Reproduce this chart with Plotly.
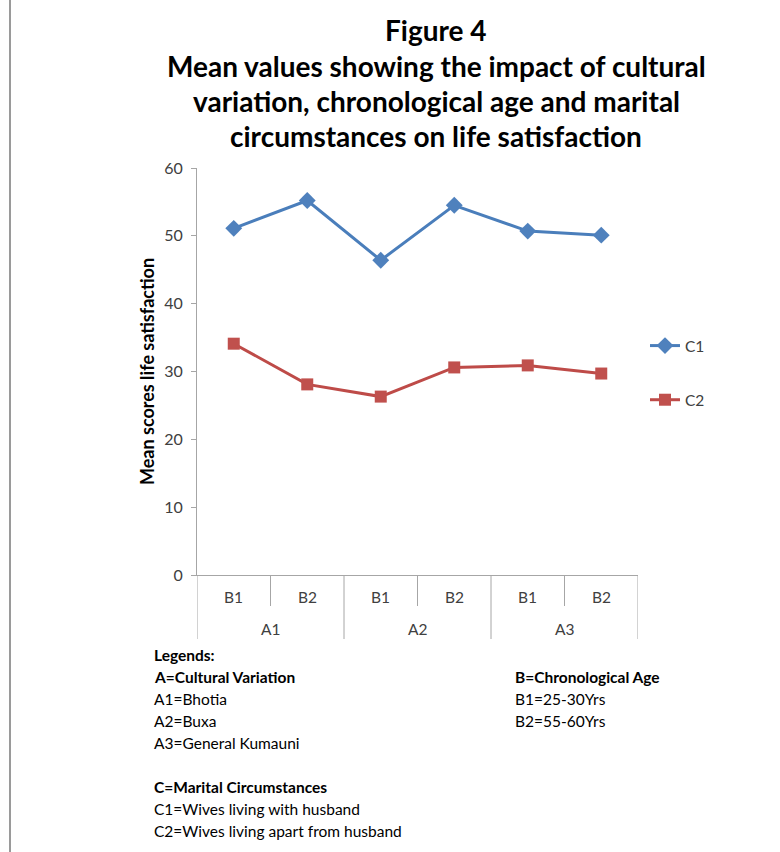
import plotly.graph_objects as go

# --- data -------------------------------------------------------------
groups = ["A1", "A2", "A3"]          # cultural variation
ages = ["B1", "B2"]                  # chronological age
series_names = ["C1", "C2"]          # marital circumstances
c1_values = [51.1, 55.2, 46.4, 54.5, 50.7, 50.1]
c2_values = [34.1, 28.1, 26.3, 30.6, 30.9, 29.7]
y_ticks = [0, 10, 20, 30, 40, 50, 60]

title_lines = [
    "Figure 4",
    "Mean values showing the impact of cultural",
    "variation, chronological age and marital",
    "circumstances on life satisfaction",
]
y_title = "Mean scores life satisfaction"

notes_left = [
    ("Legends:", True),
    ("A=Cultural Variation", True),
    ("A1=Bhotia", False),
    ("A2=Buxa", False),
    ("A3=General Kumauni", False),
    ("", False),
    ("C=Marital Circumstances", True),
    ("C1=Wives living with husband", False),
    ("C2=Wives living apart from husband", False),
]
notes_right = [
    ("B=Chronological Age", True),
    ("B1=25-30Yrs", False),
    ("B2=55-60Yrs", False),
]

# --- layout constants ---------------------------------------------------
W, H = 780, 852
L, R, T, B = 197, 142, 168, 277
PW, PH = W - L - R, H - T - B
FONT = "Lato"
AXIS_GREY = "#A6A6A6"
TEXT_GREY = "#404040"


def px_y(y):
    """pixel row -> paper y"""
    return (H - B - y) / PH


def px_x(x):
    """pixel column -> paper x"""
    return (x - L) / PW


n_cat = len(groups) * len(ages)
x_idx = list(range(n_cat))

fig = go.Figure()
fig.add_trace(go.Scatter(
    x=x_idx, y=c1_values, name=series_names[0], mode="lines+markers",
    line=dict(color="#4A7EBB", width=3),
    marker=dict(symbol="diamond", size=13, color="#4F81BD"),
    legendgroup="c1",
))
fig.add_trace(go.Scatter(
    x=x_idx, y=c2_values, name=series_names[1], mode="lines+markers",
    line=dict(color="#BE4B48", width=3),
    marker=dict(symbol="square", size=12, color="#C0504D"),
    legendgroup="c2",
))

annotations = []
shapes = []

# title block, one line per annotation
TITLE_STEP = 35.5
for i, line in enumerate(title_lines):
    annotations.append(dict(
        x=px_x(436), y=px_y(30 + i * TITLE_STEP), xref="paper", yref="paper",
        xanchor="center", yanchor="middle", text=line, showarrow=False,
        font=dict(family=FONT, size=28, color="black", weight="bold"),
    ))

# category labels (two-level axis)
CAT_FONT = dict(family=FONT, size=15.5, color=TEXT_GREY)
for gi, g in enumerate(groups):
    for ai, a in enumerate(ages):
        annotations.append(dict(
            x=gi * len(ages) + ai, y=px_y(597), xref="x", yref="paper",
            yanchor="middle", text=a, showarrow=False, font=CAT_FONT,
        ))
    annotations.append(dict(
        x=gi * len(ages) + (len(ages) - 1) / 2, y=px_y(629), xref="x", yref="paper",
        yanchor="middle", text=g, showarrow=False, font=CAT_FONT,
    ))

# dividers between categories
for k in range(1, n_cat + 1):
    major = k % len(ages) == 0
    shapes.append(dict(
        type="line", xref="x", yref="paper", x0=k - 0.5, x1=k - 0.5,
        y0=0, y1=px_y(639 if major else 606),
        line=dict(color=AXIS_GREY, width=1),
    ))
# left axis line continued through the label rows
shapes.append(dict(
    type="line", xref="x", yref="paper", x0=-0.5, x1=-0.5,
    y0=0, y1=px_y(639), line=dict(color=AXIS_GREY, width=1),
))
# page border on the left
shapes.append(dict(
    type="line", xref="paper", yref="paper", x0=px_x(10), x1=px_x(10),
    y0=px_y(0), y1=px_y(H), line=dict(color="#9A9A9A", width=2),
))

# y-axis title
annotations.append(dict(
    x=px_x(147), y=px_y(372), xref="paper", yref="paper", text=y_title,
    textangle=-90, showarrow=False, xanchor="center", yanchor="middle",
    font=dict(family=FONT, size=18, color="black", weight="bold"),
))

# notes under the chart
LINE_STEP = 22
NOTE_SIZE = 15.5
for i, (txt, bold) in enumerate(notes_left):
    if not txt:
        continue
    annotations.append(dict(
        x=px_x(152), y=px_y(655 + i * LINE_STEP), xref="paper", yref="paper",
        xanchor="left", yanchor="middle", text=txt, showarrow=False,
        font=dict(family=FONT, size=NOTE_SIZE, color="black",
                  weight="bold" if bold else "normal"),
    ))
for i, (txt, bold) in enumerate(notes_right):
    annotations.append(dict(
        x=px_x(513), y=px_y(677 + i * LINE_STEP), xref="paper", yref="paper",
        xanchor="left", yanchor="middle", text=txt, showarrow=False,
        font=dict(family=FONT, size=NOTE_SIZE, color="black",
                  weight="bold" if bold else "normal"),
    ))

fig.update_layout(
    width=W, height=H,
    margin=dict(l=L, r=R, t=T, b=B, pad=0),
    paper_bgcolor="white", plot_bgcolor="white",
    xaxis=dict(
        range=[-0.5, n_cat - 0.5], showticklabels=False, ticks="",
        showgrid=False, zeroline=False, showline=True, linecolor=AXIS_GREY, linewidth=1,
        fixedrange=True,
    ),
    yaxis=dict(
        range=[0, 60], tickvals=y_ticks, ticks="outside", ticklen=5,
        tickcolor=AXIS_GREY, showgrid=False, zeroline=False, showline=True,
        linecolor=AXIS_GREY, linewidth=1, ticklabelstandoff=5,
        tickfont=dict(family=FONT, size=16, color=TEXT_GREY),
    ),
    legend=dict(
        x=px_x(645), y=px_y(329), xanchor="left", yanchor="top",
        font=dict(family=FONT, size=15.5, color=TEXT_GREY),
        tracegroupgap=31, bgcolor="rgba(0,0,0,0)",
    ),
    annotations=annotations,
    shapes=shapes,
    showlegend=True,
)

fig.write_html("out.html")
